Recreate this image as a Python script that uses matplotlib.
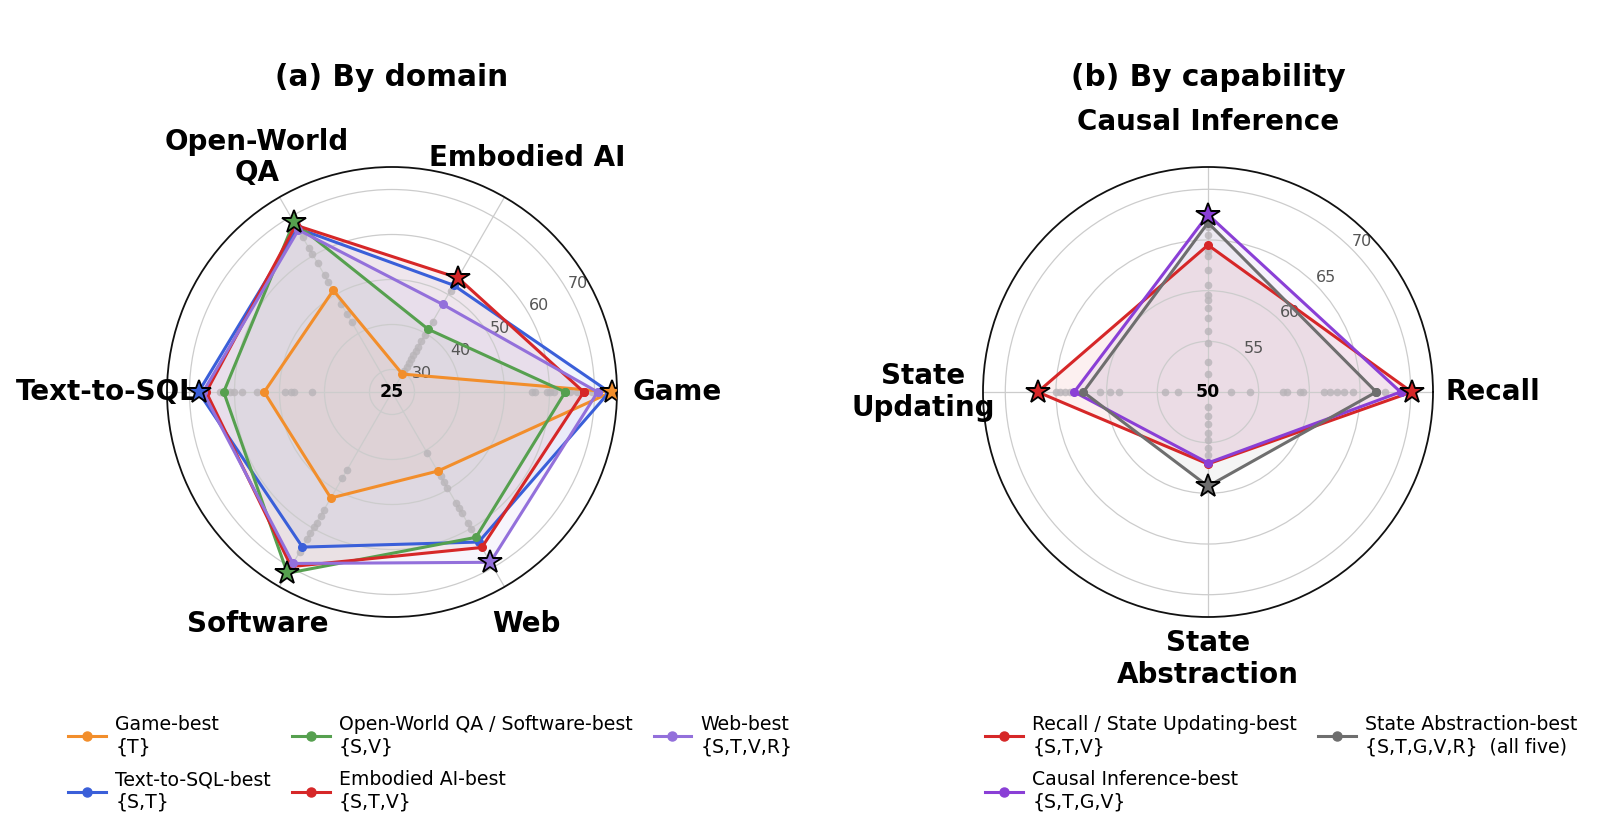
import numpy as np
import matplotlib
matplotlib.use("Agg")
import matplotlib.pyplot as plt
from matplotlib.lines import Line2D

# ---------------- data: (a) by domain ----------------
domains = ["Game", "Embodied AI", "Open-World\nQA", "Text-to-SQL", "Software", "Web"]
game_best = [73.8, 29.6, 51.1, 53.4, 52.2, 45.3]
sql_best = [73.3, 52.4, 67.0, 68.0, 64.8, 63.5]
owqa_sw_best = [63.5, 41.1, 68.6, 62.4, 71.5, 62.3]
embodied_best = [67.6, 54.3, 67.8, 66.3, 69.8, 64.9]
web_best = [70.7, 47.5, 66.6, 67.0, 69.0, 68.7]
domain_series = [
    ("Game-best\n{T}", "#F28E2B", game_best, [0]),
    ("Text-to-SQL-best\n{S,T}", "#3A5FD9", sql_best, [3]),
    ("Open-World QA / Software-best\n{S,V}", "#56A04F", owqa_sw_best, [2, 4]),
    ("Embodied AI-best\n{S,T,V}", "#D62728", embodied_best, [1]),
    ("Web-best\n{S,T,V,R}", "#9370DB", web_best, [5]),
]
# all other configurations (grey dots), per domain axis
domain_all = [
    [56.1, 56.8, 59.4, 60.2, 61.0, 63.5, 64.5, 66.0, 67.6, 69.5, 70.7, 73.3],
    [30.5, 31.5, 32.5, 33.5, 34.5, 35.5, 36.5, 38.0, 39.5, 41.1, 43.0, 47.5, 51.0, 52.4],
    [43.0, 45.0, 47.7, 51.1, 53.3, 55.0, 58.0, 60.4, 62.0, 64.7, 66.6, 67.3],
    [42.8, 46.8, 47.5, 48.7, 53.4, 55.0, 58.3, 60.2, 60.9, 62.4, 63.2, 66.3],
    [44.9, 47.0, 52.2, 55.3, 56.7, 58.5, 59.7, 61.3, 62.6, 64.8, 66.0, 69.0],
    [40.6, 45.3, 46.6, 48.0, 49.6, 53.4, 54.8, 56.1, 58.6, 60.2, 62.3, 63.5],
]
domain_rmin, domain_rmax = 25, 75
domain_rticks = [30, 40, 50, 60, 70]

# ---------------- data: (b) by capability ----------------
caps = ["Recall", "Causal Inference", "State\nUpdating", "State\nAbstraction"]
recall_su_best = [70.1, 64.5, 66.8, 57.1]
causal_best = [69.0, 67.5, 63.2, 57.0]
abstraction_best = [66.6, 66.7, 62.3, 59.3]
cap_series = [
    ("Recall / State Updating-best\n{S,T,V}", "#D62728", recall_su_best, [0, 2]),
    ("Causal Inference-best\n{S,T,G,V}", "#8A3FD6", causal_best, [1]),
    ("State Abstraction-best\n{S,T,G,V,R}  (all five)", "#6E6E6E", abstraction_best, [3]),
]
cap_all = [
    [52.3, 54.1, 57.4, 57.8, 59.1, 59.4, 61.4, 62.0, 62.7, 63.4, 64.3, 66.6, 67.5, 69.0],
    [51.8, 53.0, 54.8, 56.0, 57.3, 58.3, 59.1, 59.6, 60.6, 62.0, 63.4, 63.9, 64.5, 65.5, 66.3],
    [53.0, 54.2, 58.8, 59.7, 60.7, 62.3, 63.2, 63.6, 64.1, 64.6, 65.0],
    [51.5, 52.4, 53.2, 54.0, 54.7, 55.5, 56.2, 57.0],
]
cap_rmin, cap_rmax = 50, 72.2
cap_rticks = [55, 60, 65, 70]

plt.rcParams['font.family'] = ['DejaVu Sans']

fig = plt.figure(figsize=(16, 8.34), dpi=100)
W, H = 1600, 834
R = 225  # axes radius in px


def make_ax(cx, cy):
    return fig.add_axes([(cx - R) / W, 1 - (cy + R) / H, 2 * R / W, 2 * R / H],
                        projection='polar')


def draw_radar(ax, labels, series, allpts, rmin, rmax, rticks, rlabel_pos):
    n = len(labels)
    angles = np.arange(n) * 2 * np.pi / n
    ax.set_ylim(rmin, rmax)
    ax.set_xticks(angles)
    ax.set_xticklabels([])
    ax.tick_params(axis='x', length=0)
    ax.set_yticks(rticks)
    ax.set_yticklabels([str(t) for t in rticks], color='#555555', fontsize=11.5)
    ax.set_rlabel_position(rlabel_pos)
    ax.grid(True, color='#cccccc', lw=0.9)
    ax.spines['polar'].set_color('#111111')
    ax.spines['polar'].set_linewidth(1.3)

    # grey dots: all configurations
    for i, vals in enumerate(allpts):
        ax.plot([angles[i]] * len(vals), vals, 'o', color='#b8b4b8', ms=5.5,
                alpha=0.8, mec='none', zorder=2)

    handles = []
    for label, col, vals, best in series:
        a = np.concatenate([angles, angles[:1]])
        v = np.concatenate([vals, vals[:1]])
        ax.fill(a, v, color=col, alpha=0.065, zorder=1)
        ax.plot(a, v, '-', color=col, lw=2.2, marker='o', ms=5.5, zorder=3)
        for b in best:
            ax.plot(angles[b], vals[b], marker='*', ms=17.5, color=col, mec='black',
                    mew=1.3, zorder=5, linestyle='none')
        handles.append(Line2D([], [], color=col, lw=2.2, marker='o', ms=6.5, label=label))

    ax.text(0, rmin, str(rmin), ha='center', va='center', fontsize=12.5,
            fontweight='bold', zorder=6)

    for ang, lab in zip(angles, labels):
        d = 267 + 18 * np.cos(ang) ** 4 + 3 * max(np.sin(ang), 0)
        ax.text(0.5 + d * np.cos(ang) / (2 * R), 0.5 + d * np.sin(ang) / (2 * R), lab,
                transform=ax.transAxes, ha='center', va='center', fontsize=20,
                fontweight='bold', linespacing=1.15)
    return handles


ax1 = make_ax(392, 392)
h1 = draw_radar(ax1, domains, domain_series, domain_all, domain_rmin, domain_rmax,
                domain_rticks, 30)
ax2 = make_ax(1208, 392)
h2 = draw_radar(ax2, caps, cap_series, cap_all, cap_rmin, cap_rmax,
                cap_rticks, 45)

fig.text(392 / W, 1 - 86 / H, "(a) By domain", ha='center', va='baseline',
         fontsize=21.3, fontweight='bold')
fig.text(1208 / W, 1 - 86 / H, "(b) By capability", ha='center', va='baseline',
         fontsize=21.3, fontweight='bold')

leg_kw = dict(loc='upper left', frameon=False, fontsize=13.6, handlelength=2.0,
              handletextpad=0.5, columnspacing=1.1, labelspacing=0.76,
              borderpad=0, borderaxespad=0)
fig.legend(handles=h1, ncol=3, bbox_to_anchor=(68 / W, 1 - 715 / H), **leg_kw)
fig.legend(handles=h2, ncol=2, bbox_to_anchor=(985 / W, 1 - 715 / H), **leg_kw)

fig.savefig("out.png", dpi=100, facecolor='white')
